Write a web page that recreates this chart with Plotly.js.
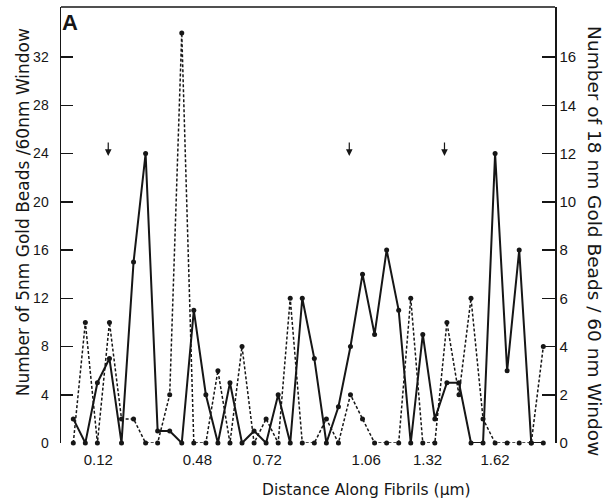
<!DOCTYPE html>
<html>
<head>
<meta charset="utf-8">
<script src="https://cdn.plot.ly/plotly-3.0.1.min.js"></script>
<style>html,body{margin:0;padding:0;background:#fff;}#chart{width:604px;height:501px;}</style>
</head>
<body>
<div id="chart"></div>
<script>
// Counts per 60 nm window along the fibril (window index 0..39)
const beads5nm  = [2,0,5,7,0,15,24,1,1,0,11,4,0,5,0,1,0,4,0,12,7,0,3,8,14,9,16,11,0,9,2,5,5,0,0,24,6,16,0,0];
const beads18nm = [0,5,0,5,1,1,0,0,2,17,0,0,3,0,4,0,1,0,6,0,0,1,0,2,1,0,0,0,6,0,0,5,2,6,1,0,0,0,0,4];
// Distance labels (µm) and the window index they sit under
const xTickPos  = [2.08, 10.3, 16.1, 24.3, 29.4, 35.0];
const xTickText = ['0.12','0.48','0.72','1.06','1.32','1.62'];
const leftTicks  = [0,4,8,12,16,20,24,28,32];
const rightTicks = [0,2,4,6,8,10,12,14,16];
// Marker arrows (window index)
const arrowPos = [2.9, 22.9, 30.8];

const idx = beads5nm.map((_, i) => i);
const ink = '#161616';
const font = 'Liberation Sans, Arial, sans-serif';
const tfont = 'DejaVu Sans, sans-serif';

const traces = [
  {x: idx, y: beads5nm, yaxis: 'y', mode: 'lines+markers', cliponaxis: false,
   line: {color: ink, width: 2}, marker: {color: ink, size: 5}},
  {x: idx, y: beads18nm, yaxis: 'y2', mode: 'lines+markers', cliponaxis: false,
   line: {color: ink, width: 1.5, dash: '3px,2px'}, marker: {color: ink, size: 5}}
];

const annotations = [
  {xref:'paper', yref:'paper', x:0.019, y:0.965, xanchor:'center', yanchor:'middle', text:'<b>A</b>', showarrow:false,
   font:{family:font, size:22, color:ink}},
  {xref:'paper', yref:'paper', x:0.619, y:-0.108, xanchor:'center', yanchor:'middle', text:'Distance Along Fibrils (µm)', showarrow:false,
   font:{family:tfont, size:15.5, color:ink}},
  {xref:'paper', yref:'paper', x:-0.077, y:0.529, xanchor:'center', yanchor:'middle', textangle:-90,
   text:'Number of 5nm Gold Beads /60nm Window', showarrow:false,
   font:{family:tfont, size:17, color:ink}},
  {xref:'paper', yref:'paper', x:1.081, y:0.463, xanchor:'center', yanchor:'middle', textangle:90,
   text:'Number of 18 nm Gold Beads / 60 nm Window', showarrow:false,
   font:{family:tfont, size:18.5, color:ink}}
];
arrowPos.forEach(p => annotations.push({
  x: p, y: 23.8, xref:'x', yref:'y', text:'', showarrow:true, ax:0, ay:-15,
  arrowhead:2, arrowsize:1.1, arrowwidth:1.2, arrowcolor:ink
}));

const layout = {
  width: 604, height: 501,
  margin: {l:61, r:49, t:7, b:58},
  paper_bgcolor:'#fff', plot_bgcolor:'#fff',
  showlegend:false,
  xaxis: {range:[-1.02, 39.97], tickvals:xTickPos, ticktext:xTickText, ticks:'',
          showline:false, showgrid:false, zeroline:false, ticklabelstandoff:6,
          tickfont:{family:font, size:15, color:ink}},
  yaxis: {range:[0, 36.15], tickvals:leftTicks, ticks:'inside', ticklen:12, tickwidth:1.5, tickcolor:ink,
          showline:true, linewidth:1.5, linecolor:ink, showgrid:false, zeroline:false, ticklabelstandoff:8,
          tickfont:{family:font, size:14, color:ink}},
  yaxis2: {range:[0, 18.075], tickvals:rightTicks, overlaying:'y', side:'right', ticks:'inside', ticklen:13,
          tickwidth:1.5, tickcolor:ink, showline:true, linewidth:1.5, linecolor:ink, showgrid:false,
          zeroline:false, ticklabelstandoff:0, tickfont:{family:font, size:15, color:ink}},
  shapes: [{type:'line', xref:'paper', yref:'paper', x0:0, x1:1, y0:1, y1:1, line:{color:ink, width:1.5}}],
  annotations: annotations
};

Plotly.newPlot('chart', traces, layout, {displayModeBar:false, staticPlot:true});
</script>
</body>
</html>
